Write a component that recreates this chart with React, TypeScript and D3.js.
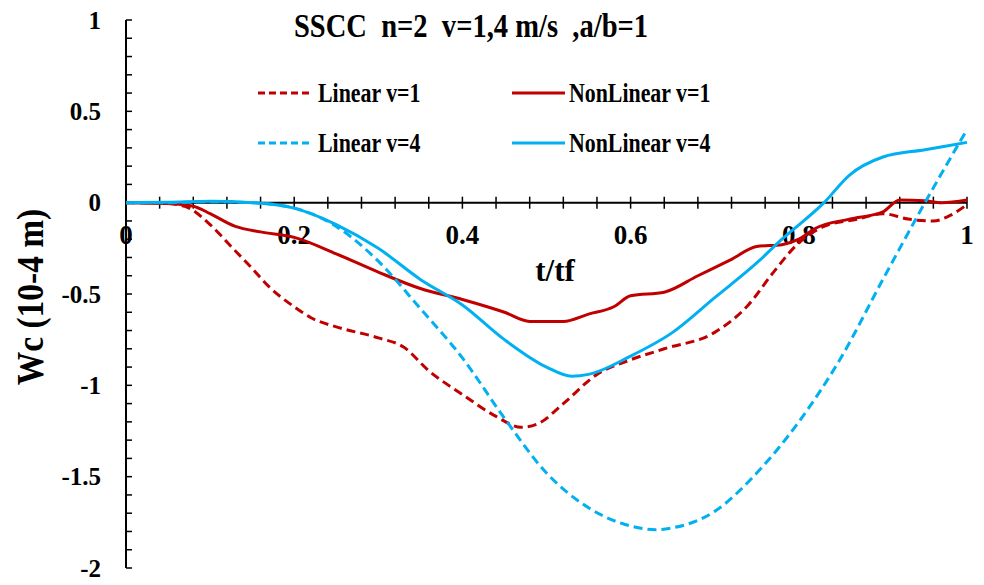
import React from 'react';
import * as d3 from 'd3';

// t/tf sample points and Wc values (10-4 m)
const linV1T = [0, 0.05, 0.07, 0.1, 0.125, 0.15, 0.17, 0.2, 0.22, 0.25, 0.3, 0.33, 0.36, 0.4, 0.44, 0.47, 0.49, 0.52, 0.56, 0.6, 0.64, 0.7, 0.74, 0.77, 0.8, 0.83, 0.87, 0.9, 0.93, 0.96, 0.98, 1.0];
const linV1 = [0, -0.005, -0.02, -0.12, -0.24, -0.36, -0.46, -0.57, -0.63, -0.68, -0.74, -0.79, -0.92, -1.05, -1.17, -1.23, -1.21, -1.1, -0.94, -0.86, -0.8, -0.71, -0.56, -0.38, -0.22, -0.13, -0.09, -0.06, -0.09, -0.1, -0.07, -0.01];

const nonV1T = [0, 0.05, 0.08, 0.1, 0.13, 0.16, 0.2, 0.25, 0.3, 0.35, 0.4, 0.45, 0.48, 0.52, 0.55, 0.58, 0.6, 0.64, 0.68, 0.72, 0.75, 0.78, 0.8, 0.82, 0.86, 0.9, 0.92, 0.95, 0.97, 1.0];
const nonV1 = [0, -0.005, -0.02, -0.06, -0.13, -0.16, -0.19, -0.28, -0.38, -0.47, -0.53, -0.6, -0.65, -0.65, -0.61, -0.57, -0.51, -0.49, -0.4, -0.31, -0.24, -0.23, -0.2, -0.14, -0.09, -0.05, 0.015, 0.01, 0.0, 0.015];

const linV4T = [0, 0.05, 0.1, 0.15, 0.2, 0.25, 0.3, 0.35, 0.4, 0.45, 0.5, 0.55, 0.6, 0.63, 0.65, 0.7, 0.75, 0.8, 0.85, 0.9, 0.95, 1.0];
const linV4 = [0, 0, 0.005, 0, -0.03, -0.13, -0.32, -0.58, -0.85, -1.18, -1.48, -1.67, -1.77, -1.79, -1.78, -1.69, -1.48, -1.2, -0.85, -0.42, 0.0, 0.4];

const nonV4T = [0, 0.05, 0.1, 0.15, 0.2, 0.25, 0.3, 0.35, 0.4, 0.45, 0.5, 0.53, 0.55, 0.6, 0.65, 0.7, 0.75, 0.78, 0.83, 0.86, 0.9, 0.95, 1.0];
const nonV4 = [0, 0.002, 0.008, 0.0, -0.03, -0.12, -0.25, -0.42, -0.56, -0.75, -0.9, -0.95, -0.94, -0.84, -0.71, -0.52, -0.33, -0.2, 0.0, 0.15, 0.25, 0.29, 0.33];

const xTicks = [0, 0.2, 0.4, 0.6, 0.8, 1];
const yTicks = [1, 0.5, 0, -0.5, -1, -1.5, -2];

const RED = '#C00000';
const BLUE = '#00B0F0';
const FONT = '"Liberation Serif", "DejaVu Serif", serif';
const txt = { fontFamily: FONT, fontWeight: 700 as const };

const series = [
  { name: 'Linear v=1', t: linV1T, v: linV1, color: RED, dash: '9,5' },
  { name: 'NonLinear v=1', t: nonV1T, v: nonV1, color: RED, dash: null },
  { name: 'Linear v=4', t: linV4T, v: linV4, color: BLUE, dash: '9,5' },
  { name: 'NonLinear v=4', t: nonV4T, v: nonV4, color: BLUE, dash: null },
];

const App = () => {
  const width = 984, height = 585;
  const x = d3.scaleLinear().domain([0, 1]).range([126, 967]);
  const y = d3.scaleLinear().domain([-2, 1]).range([568, 20]);

  const line = d3.line<[number, number]>()
    .x(d => x(d[0]))
    .y(d => y(d[1]))
    .curve(d3.curveMonotoneX);

  const xMinor = d3.range(0, 1.0001, 0.04);
  const yMinor = d3.range(-2, 1.0001, 0.1);

  // legend spots: [lineX0, lineX1, textX, rowY]
  const legendPos = [
    [258, 313, 318, 93],
    [512, 565, 569, 93],
    [258, 313, 318, 143],
    [512, 565, 569, 143],
  ];

  return (
    <svg width={width} height={height} style={{ position: 'absolute', left: 0, top: 0, background: '#fff' }}>
      {/* axes */}
      <line x1={x(0)} x2={x(0)} y1={y(1)} y2={y(-2)} stroke="#000" strokeWidth={2} />
      {yMinor.map((v, i) => (
        <line key={'yt' + i} x1={x(0)} x2={x(0) + 6} y1={y(v)} y2={y(v)} stroke="#000" strokeWidth={1.5} />
      ))}
      <line x1={x(0)} x2={x(1)} y1={y(0)} y2={y(0)} stroke="#000" strokeWidth={2} />
      {xMinor.map((t, i) => (
        <line key={'xt' + i} x1={x(t)} x2={x(t)} y1={y(0) - 6} y2={y(0) + 6} stroke="#000" strokeWidth={1.5} />
      ))}
      {yTicks.map(v => (
        <text key={'yl' + v} x={101} y={y(v)} dy="0.35em" textAnchor="end" fontSize={25} style={txt}>{v}</text>
      ))}
      {xTicks.map(t => (
        <text key={'xl' + t} x={x(t)} y={y(0) + 32} dy="0.35em" textAnchor="middle" fontSize={27} style={txt}>{t}</text>
      ))}

      {/* curves */}
      {series.map(s => (
        <path key={s.name}
          d={line(s.t.map((t, i) => [t, s.v[i]] as [number, number])) || ''}
          fill="none" stroke={s.color} strokeWidth={3}
          strokeDasharray={s.dash || undefined} />
      ))}

      {/* titles */}
      <g transform="translate(471,37) scale(0.84,1)">
        <text textAnchor="middle" fontSize={34} style={{ ...txt, whiteSpace: 'pre' }}>{'SSCC  n=2  v=1,4 m/s  ,a/b=1'}</text>
      </g>
      <text x={555} y={281} textAnchor="middle" fontSize={31} style={txt}>t/tf</text>
      <g transform="translate(43,297) rotate(-90) scale(0.88,1)">
        <text textAnchor="middle" fontSize={38} style={txt}>Wc (10-4 m)</text>
      </g>

      {/* legend */}
      {series.map((s, i) => {
        const [x0, x1, tx, ry] = legendPos[i];
        return (
          <g key={'lg' + i}>
            <line x1={x0} x2={x1} y1={ry} y2={ry} stroke={s.color} strokeWidth={3}
              strokeDasharray={s.dash ? '7,4' : undefined} />
            <g transform={`translate(${tx},${ry + 9}) scale(0.81,1)`}>
              <text fontSize={27} style={txt}>{s.name}</text>
            </g>
          </g>
        );
      })}
    </svg>
  );
};

export default App;
